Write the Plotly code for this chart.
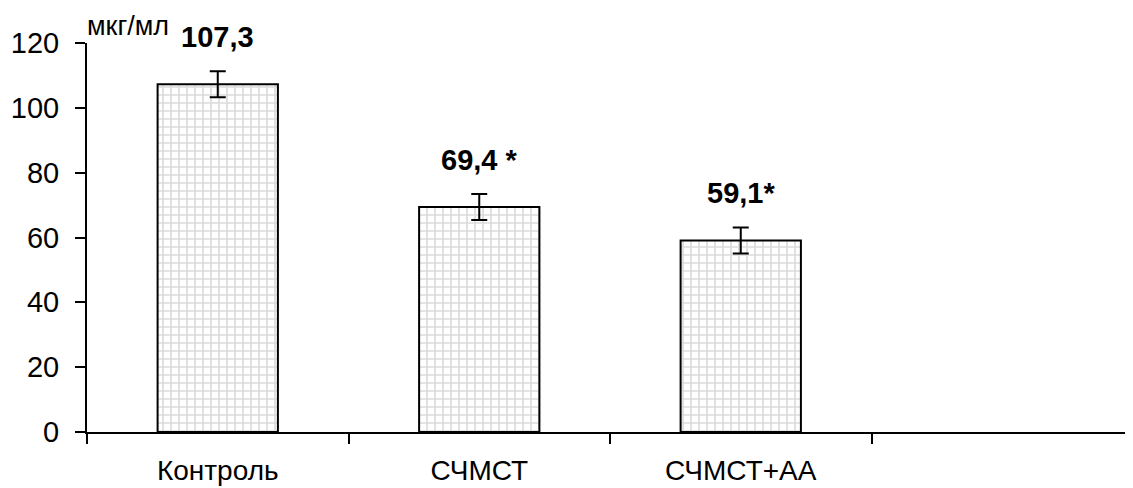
import plotly.graph_objects as go

categories = ["Контроль", "СЧМСТ", "СЧМСТ+АА"]
values = [107.3, 69.4, 59.1]
errors = [4.0, 4.0, 4.0]
value_labels = ["107,3", "69,4 *", "59,1*"]
all_slots = categories + [" "]
y_ticks = [0, 20, 40, 60, 80, 100, 120]
unit_label = "мкг/мл"

FONT = "Liberation Sans, Arial, sans-serif"

fig = go.Figure()
fig.add_trace(go.Bar(
    x=categories,
    y=values,
    width=0.46,
    marker=dict(
        color="white",
        line=dict(color="black", width=2),
        pattern=dict(shape="+", size=8, solidity=0.38, fgcolor="#b8b8b8", bgcolor="white", fillmode="overlay"),
    ),
    error_y=dict(type="data", array=errors, visible=True, color="black", thickness=2, width=8),
    showlegend=False,
))

for c, v, e, t in zip(categories, values, errors, value_labels):
    fig.add_annotation(
        x=c, y=v + e, xref="x", yref="y", text="<b>" + t + "</b>",
        showarrow=False, yanchor="middle", yshift=34,
        font=dict(family=FONT, size=29, color="black"),
    )

fig.add_annotation(
    x=0, y=1, xref="paper", yref="paper", text=unit_label,
    showarrow=False, xanchor="left", yanchor="middle", xshift=-2, yshift=17,
    font=dict(family=FONT, size=27, color="black"),
)

fig.update_layout(
    width=1125, height=480,
    margin=dict(l=79, r=0, t=35, b=56, pad=0),
    paper_bgcolor="white", plot_bgcolor="white",
)
fig.update_xaxes(
    type="category", categoryorder="array", categoryarray=all_slots,
    range=[-0.5, 3.5], tickson="boundaries",
    showline=True, linecolor="black", linewidth=2,
    ticks="outside", ticklen=10, tickwidth=2, tickcolor="black",
    showgrid=False, zeroline=False,
    tickfont=dict(family=FONT, size=28, color="black"),
    ticklabelstandoff=12,
)
fig.update_yaxes(
    range=[0, 120], tickvals=y_ticks,
    showline=True, linecolor="black", linewidth=2,
    ticks="outside", ticklen=10, tickwidth=2, tickcolor="black",
    showgrid=False, zeroline=False,
    tickfont=dict(family=FONT, size=29, color="black"),
    ticklabelstandoff=10,
)

fig.write_html("out.html")
